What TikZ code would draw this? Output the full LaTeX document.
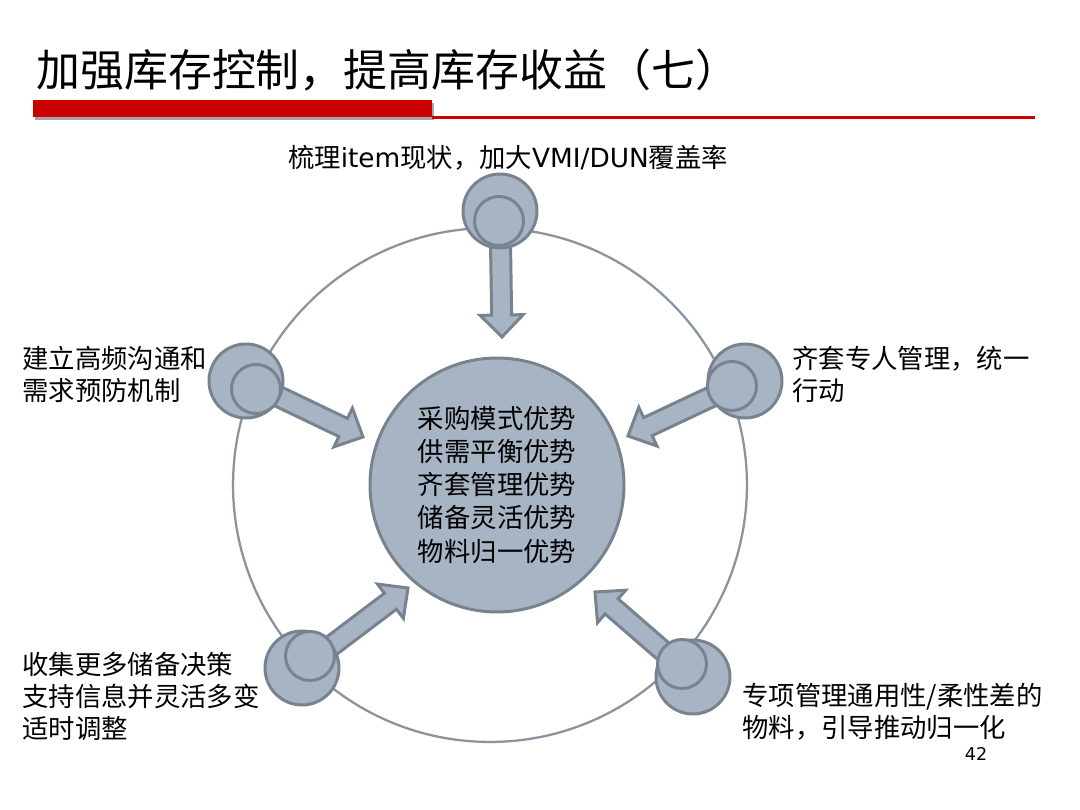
\documentclass[tikz,border=0pt]{standalone}
\usepackage{fontspec}
\newfontfamily\cjk{Noto Sans CJK SC}
\newfontfamily\lat{DejaVu Sans}
\usetikzlibrary{calc}
\definecolor{discfill}{RGB}{166,180,196}
\definecolor{discline}{RGB}{120,131,142}
\definecolor{ringcol}{RGB}{138,148,158}
\definecolor{barred}{RGB}{204,0,0}
\tikzset{
  disc/.style={circle, draw=discline, fill=discfill, line width=1.7pt, inner sep=0pt},
  outerdisc/.style={disc, minimum size=1.48cm},
  innerdisc/.style={disc, minimum size=0.98cm},
  centerdisc/.style={disc, minimum size=5.08cm},
  blockarrow/.style={draw=discline, fill=discfill, line width=1.7pt, line join=miter},
  ringline/.style={draw=ringcol, line width=1.3pt},
  lbl/.style={inner sep=0pt, align=left, font=\cjk\fontsize{15}{18.2}\selectfont},
}
\newcommand\blockarr[2]{%
  \coordinate (h-#1) at ($(#2)!0.44cm!(#1)$);
  \draw[blockarrow] ($(#1)!0.2cm!90:(#2)$) -- ($(h-#1)!0.2cm!90:(#2)$) -- ($(h-#1)!0.43cm!90:(#2)$) -- (#2)
     -- ($(h-#1)!0.43cm!-90:(#2)$) -- ($(h-#1)!0.2cm!-90:(#2)$) -- ($(#1)!0.2cm!-90:(#2)$) -- cycle;}
\begin{document}
\begin{tikzpicture}[x=0.02cm,y=-0.02cm]
\useasboundingbox[fill=white] (0,0) rectangle (1080,810);
% title
\node[anchor=west, inner sep=0pt, font=\cjk\fontsize{25}{30}\selectfont] (title) at (36,70) {加强库存控制，提高库存收益（七）};
\fill[black!35] (35,103) rectangle (434,120);
\fill[barred] (33,100) rectangle (432,117);
\fill[barred] (432,116) rectangle (1035,119.5);
% ring
\draw[ringline] (490,485) circle [radius=5.14cm];
% center
\node[centerdisc, font=\cjk\fontsize{15}{18.8}\selectfont, align=center] (c) at (497,485) {采购模式优势\\供需平衡优势\\齐套管理优势\\储备灵活优势\\物料归一优势};
% coordinates
\coordinate (tT) at (500,211);
\coordinate (tL) at (246,381);
\coordinate (tR) at (745,381);
\coordinate (tBL) at (302,668);
\coordinate (tBR) at (693,677);
\coordinate (pT) at (502,337);
\coordinate (pL) at (363,437);
\coordinate (pR) at (628,436);
\coordinate (pBL) at (408,588);
\coordinate (pBR) at (595,592);
\blockarr{tT}{pT}
\blockarr{tL}{pL}
\blockarr{tR}{pR}
\blockarr{tBL}{pBL}
\blockarr{tBR}{pBR}
% discs
\node[outerdisc] (oT) at (tT) {};
\node[outerdisc] (oL) at (tL) {};
\node[outerdisc] (oR) at (tR) {};
\node[outerdisc] (oBL) at (tBL) {};
\node[outerdisc] (oBR) at (tBR) {};
\node[innerdisc] (iT) at (499,221) {};
\node[innerdisc] (iL) at (256,389) {};
\node[innerdisc] (iR) at (732,386) {};
\node[innerdisc] (iBL) at (310,656) {};
\node[innerdisc] (iBR) at (682,664) {};
% labels
\node[lbl, anchor=center] (lT) at (508,158) {梳理{\lat item}现状，加大{\lat VMI/DUN}覆盖率};
\node[lbl, anchor=west] (lL) at (22,374) {建立高频沟通和\\需求预防机制};
\node[lbl, anchor=west] (lR) at (792,374) {齐套专人管理，统一\\行动};
\node[lbl, anchor=west] (lBL) at (22,696) {收集更多储备决策\\支持信息并灵活多变\\适时调整};
\node[lbl, anchor=west] (lBR) at (742,712) {专项管理通用性/柔性差的\\物料，引导推动归一化};
\node[inner sep=0pt, font=\lat\fontsize{10}{12}\selectfont] (pg) at (976,754) {42};
\end{tikzpicture}
\end{document}
